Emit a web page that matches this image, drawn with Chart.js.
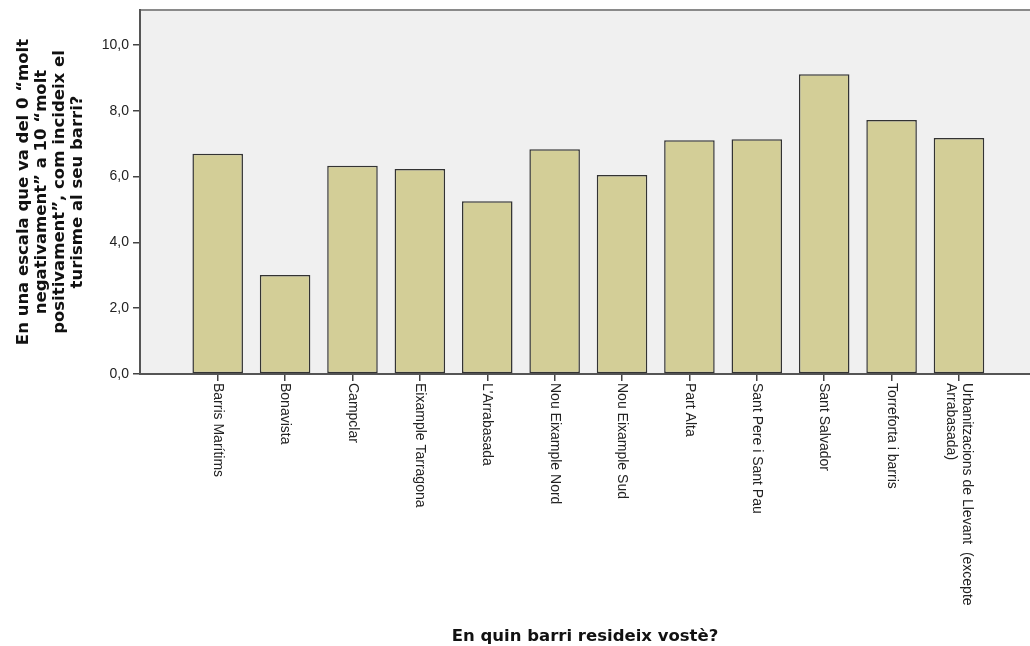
<!DOCTYPE html>
<html>
<head>
<meta charset="utf-8">
<script src="https://cdn.jsdelivr.net/npm/chart.js@4/dist/chart.umd.min.js"></script>
<style>
  body { margin: 0; background: #fff; }
</style>
</head>
<body>
<canvas id="chart1" width="1030" height="646"></canvas>
<script>
// barris (categories) and mean score per barri
var barris = [
    "Barris Marítims", "Bonavista", "Campclar", "Eixample Tarragona", "L'Arrabasada",
    "Nou Eixample Nord", "Nou Eixample Sud", "Part Alta", "Sant Pere i Sant Pau",
    "Sant Salvador", "Torreforta i barris",
    ["Urbanitzacions de Llevant  (excepte", "Arrabasada)"]
]
var mitjanes = [6.69, 3.01, 6.33, 6.23, 5.25, 6.83, 6.05, 7.10, 7.13, 9.11, 7.72, 7.17]
var yTicks = [0, 2, 4, 6, 8, 10]
var yTitle = ["En una escala que va del 0 \u201cmolt", "negativament\u201d a 10 \u201cmolt",
              "positivament\u201d, com incideix el", "turisme al seu barri?"]
var xTitle = "En quin barri resideix vostè?"

function barData() {
    var data = []
    for (let i = 0; i < barris.length; i++) {
        data.push({ x: i, y: mitjanes[i] })
    }
    return data
}

// grey plot background + top frame line
var plotBackground = {
    id: "plotBackground",
    beforeDraw: function(chart) {
        var a = chart.chartArea
        var ctx = chart.ctx
        ctx.save()
        ctx.fillStyle = "#f0f0f0"
        ctx.fillRect(a.left, a.top, a.right - a.left, a.bottom - a.top)
        ctx.strokeStyle = "#8a8a8a"
        ctx.lineWidth = 2
        ctx.beginPath()
        ctx.moveTo(a.left, a.top)
        ctx.lineTo(a.right, a.top)
        ctx.stroke()
        ctx.restore()
    }
}

// x labels read top to bottom, starting under each tick
var verticalLabels = {
    id: "verticalLabels",
    afterDraw: function(chart) {
        var xScale = chart.scales.x
        var ctx = chart.ctx
        var y0 = chart.chartArea.bottom + 9
        ctx.save()
        ctx.font = "14px 'Liberation Sans', Arial, sans-serif"
        ctx.fillStyle = "#222"
        ctx.textAlign = "left"
        ctx.textBaseline = "middle"
        for (let i = 0; i < barris.length; i++) {
            var lines = Array.isArray(barris[i]) ? barris[i] : [barris[i]]
            var x = xScale.getPixelForValue(i)
            ctx.save()
            ctx.translate(x, y0)
            ctx.rotate(Math.PI / 2)
            for (let k = 0; k < lines.length; k++) {
                ctx.fillText(lines[k], 0, (k - (lines.length - 1) / 2) * 16)
            }
            ctx.restore()
        }
        ctx.restore()
    }
}

window.onload = () => {
    const ctx = document.getElementById("chart1").getContext("2d")
    window.myBar = new Chart(ctx, {
        type: "bar",
        data: {
            datasets: [{
                data: barData(),
                backgroundColor: "#d3ce97",
                borderColor: "#333",
                borderWidth: 1.5,
                borderSkipped: false,
                categoryPercentage: 1,
                barPercentage: 0.75
            }]
        },
        plugins: [plotBackground, verticalLabels],
        options: {
            responsive: false,
            animation: false,
            devicePixelRatio: 1,
            layout: { padding: { top: 10, left: 0, right: 0, bottom: 0 } },
            plugins: {
                legend: { display: false },
                tooltip: { enabled: false }
            },
            scales: {
                x: {
                    type: "linear",
                    min: -1.153,
                    max: 12.054,
                    offset: false,
                    afterBuildTicks: function(axis) {
                        axis.ticks = barris.map((b, i) => ({ value: i }))
                    },
                    afterFit: function(axis) { axis.height = 272 },
                    ticks: { display: false },
                    grid: { offset: false, drawOnChartArea: false, drawTicks: true, tickLength: 7, color: "#444", lineWidth: 1.5 },
                    border: { color: "#555", width: 2 },
                    title: {
                        display: true,
                        text: xTitle,
                        color: "#111",
                        padding: { top: 0, bottom: 0 },
                        font: { family: "'DejaVu Sans', sans-serif", size: 16.5, weight: "bold", lineHeight: "18px" }
                    }
                },
                y: {
                    min: 0,
                    max: 11.06,
                    afterBuildTicks: function(axis) {
                        axis.ticks = yTicks.map(v => ({ value: v }))
                    },
                    afterFit: function(axis) {
                        axis.width = 140
                        axis.paddingTop = 0
                        axis.paddingBottom = 0
                    },
                    ticks: {
                        padding: 4,
                        color: "#222",
                        font: { family: "'Liberation Sans', Arial, sans-serif", size: 14 },
                        callback: function(v) { return v.toFixed(1).replace(".", ",") }
                    },
                    grid: { drawOnChartArea: false, drawTicks: true, tickLength: 7, color: "#444", lineWidth: 1.5 },
                    border: { color: "#555", width: 2 },
                    title: {
                        display: true,
                        text: yTitle,
                        color: "#111",
                        padding: { top: 15, bottom: 0 },
                        font: { family: "'DejaVu Sans', sans-serif", size: 16.5, weight: "bold", lineHeight: "18px" }
                    }
                }
            }
        }
    })
}
</script>
</body>
</html>
